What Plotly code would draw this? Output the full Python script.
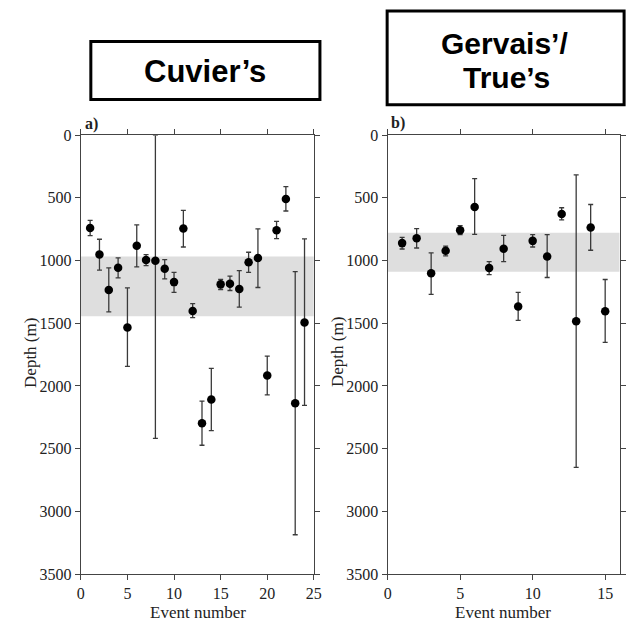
import plotly.graph_objects as go

# ---- Data: Cuvier's (panel a) ----
cuv_event = list(range(1, 25))
cuv_depth = [740, 952, 1234, 1058, 1534, 882, 996, 1001, 1066, 1172, 745, 1402,
             2297, 2108, 1190, 1185, 1226, 1014, 980, 1917, 758, 509, 2139, 1495]
cuv_top = [680, 830, 1058, 978, 1218, 716, 952, 0, 993, 1094, 600, 1343,
           2121, 1860, 1151, 1125, 1081, 934, 747, 1762, 688, 411, 1089, 827]
cuv_bot = [802, 1076, 1409, 1138, 1844, 1050, 1040, 2418, 1146, 1254, 892, 1456,
           2473, 2356, 1231, 1239, 1371, 1094, 1215, 2072, 825, 605, 3187, 2155]
cuv_band = [968, 1444]

# ---- Data: Gervais'/True's (panel b) ----
ger_event = list(range(1, 16))
ger_depth = [861, 822, 1102, 921, 758, 572, 1060, 905, 1366, 843, 967, 628, 1485, 737, 1405]
ger_top = [815, 745, 939, 885, 722, 346, 1009, 799, 1254, 794, 794, 579, 316, 553, 1151]
ger_bot = [908, 900, 1270, 962, 794, 791, 1112, 1009, 1477, 892, 1135, 675, 2649, 918, 1653]
ger_band = [778, 1090]

y_ticks = [0, 500, 1000, 1500, 2000, 2500, 3000, 3500]

W, H = 637, 630
def px(x): return x / W
def py(y): return 1 - y / H

fig = go.Figure()

def add_series(x, d, top, bot, xa, ya):
    fig.add_trace(go.Scatter(
        x=x, y=d, mode="markers",
        marker=dict(color="black", size=8.5),
        error_y=dict(type="data", symmetric=False,
                     array=[b - c for b, c in zip(bot, d)],
                     arrayminus=[c - t for c, t in zip(d, top)],
                     color="#3a3a3a", thickness=1.3, width=2.5),
        xaxis=xa, yaxis=ya, showlegend=False, hoverinfo="skip"))

add_series(cuv_event, cuv_depth, cuv_top, cuv_bot, "x", "y")
add_series(ger_event, ger_depth, ger_top, ger_bot, "x2", "y2")

shapes = [
    dict(type="rect", xref="x", yref="y", x0=0, x1=25, y0=cuv_band[0], y1=cuv_band[1],
         fillcolor="#dedede", line=dict(width=0), layer="below"),
    dict(type="rect", xref="x2", yref="y2", x0=0, x1=16, y0=ger_band[0], y1=ger_band[1],
         fillcolor="#dedede", line=dict(width=0), layer="below"),
    dict(type="rect", xref="paper", yref="paper", x0=px(88.5), x1=px(322), y0=py(94), y1=py(34.5),
         line=dict(color="black", width=3), fillcolor="rgba(0,0,0,0)"),
    dict(type="rect", xref="paper", yref="paper", x0=px(390.5), x1=px(632), y0=py(99.5), y1=py(3),
         line=dict(color="black", width=3), fillcolor="rgba(0,0,0,0)"),
]

serif = "Liberation Serif"
tfont = dict(family=serif, size=16, color="#222")
lfont = dict(family=serif, size=17, color="#222")
axis_common = dict(showline=True, linecolor="#444", linewidth=1.2, mirror="ticks",
                   ticks="outside", ticklen=5, tickcolor="#444", tickwidth=1,
                   showgrid=False, zeroline=False, tickfont=tfont)

ydom = [py(581.7), py(130.7)]
fig.update_layout(
    width=W, height=H, margin=dict(l=0, r=0, t=0, b=0),
    font=dict(family=serif, size=16, color="#222"),
    plot_bgcolor="white", paper_bgcolor="white",
    xaxis=dict(domain=[px(78.3), px(315.8)], range=[0, 25], tickvals=[0, 5, 10, 15, 20, 25], **axis_common),
    yaxis=dict(domain=ydom, range=[3500, 0], tickvals=y_ticks, **axis_common),
    xaxis2=dict(domain=[px(391), px(627.5)], range=[0, 16], tickvals=[0, 5, 10, 15], anchor="y2", **axis_common),
    yaxis2=dict(domain=ydom, range=[3500, 0], tickvals=y_ticks, anchor="x2", **axis_common),
    shapes=shapes,
)

sans = "Liberation Sans"
ann = [
    dict(text="Depth (m)", x=px(27), y=py(354), textangle=-90, font=lfont),
    dict(text="Depth (m)", x=px(340), y=py(354), textangle=-90, font=lfont),
    dict(text="Event number", x=px(197.5), y=py(621), font=lfont),
    dict(text="Event number", x=px(509), y=py(621), font=lfont),
    dict(text="<b>a)</b>", x=px(89), y=py(119.5), font=tfont),
    dict(text="<b>b)</b>", x=px(401.5), y=py(118.5), font=tfont),
    dict(text="<b>Cuvier’s</b>", x=px(205), y=py(65), font=dict(family=sans, size=31, color="black")),
    dict(text="<b>Gervais’/</b>", x=px(510), y=py(36), font=dict(family=sans, size=30, color="black")),
    dict(text="<b>True’s</b>", x=px(512), y=py(71), font=dict(family=sans, size=30, color="black")),
]
for a in ann:
    a.update(xref="paper", yref="paper", showarrow=False, xanchor="center", yanchor="middle")
fig.update_layout(annotations=ann)

fig.write_html("out.html")
